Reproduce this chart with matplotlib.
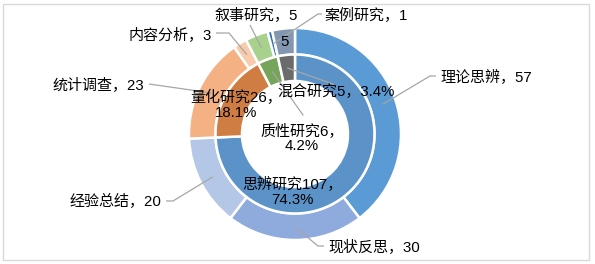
import numpy as np
import matplotlib.pyplot as plt
from matplotlib.patches import Rectangle

plt.rcParams['font.family'] = ['Liberation Sans', 'Noto Sans CJK SC', 'DejaVu Sans']

# outer ring: sub-methods
outer_names = ['理论思辨', '现状反思', '经验总结', '统计调查', '内容分析', '叙事研究', '案例研究', '混合研究']
outer_values = [57, 30, 20, 23, 3, 5, 1, 5]
outer_colors = ['#5B9BD5', '#8FAADC', '#B4C7E7', '#F4B183', '#F8CBAD', '#A9D18E', '#2E75B6', '#8497B0']

# inner ring: main categories
inner_names = ['思辨研究', '量化研究', '质性研究', '混合研究']
inner_values = [107, 26, 6, 5]
inner_pcts = ['74.3%', '18.1%', '4.2%', '3.4%']
inner_colors = ['#5B93C9', '#CF7D42', '#76A45A', '#6B6B6B']

# pixel layout of the chart
cx, cy, R = 295, 134, 106
W, H = 595, 264


def px(x, y):
    return ((x - cx) / R, (cy - y) / R)


# text position (pixels), alignment, leader points after the wedge anchor
outer_layout = [
    ((440, 77), 'left', [(430, 76), (436, 76)]),
    ((328, 247), 'left', [(318, 246), (324, 246)]),
    ((161, 202), 'right', [(173, 201), (166, 201)]),
    ((144, 85), 'right', [(149, 84)]),
    ((212, 35), 'right', [(229, 33), (216, 33)]),
    ((256, 15), 'center', [(250, 25)]),
    ((324, 15), 'left', [(318, 14), (322, 14)]),
    (None, 'center', []),
]
inner_layout = [
    ((292, 192), []),
    ((236, 105), []),
    ((302, 138), [(303, 115)]),
    ((336, 92), [(333, 84)]),
]

fig = plt.figure(figsize=(W / 100, H / 100), dpi=100)
ax = fig.add_axes([0, 0, 1, 1])

wo, _ = ax.pie(outer_values, radius=1.0, colors=outer_colors, startangle=90, counterclock=False,
               wedgeprops=dict(width=0.25, edgecolor='white', linewidth=1.8))
wi, _ = ax.pie(inner_values, radius=0.75, colors=inner_colors, startangle=90, counterclock=False,
               wedgeprops=dict(width=0.25, edgecolor='white', linewidth=1.8))

ax.set_aspect('auto')
ax.set_xlim(-cx / R, (W - cx) / R)
ax.set_ylim(-(H - cy) / R, cy / R)
ax.axis('off')

lc = '#A6A6A6'
fs = 10.8


def anchor(w, r):
    a = np.deg2rad((w.theta1 + w.theta2) / 2)
    return r * np.cos(a), r * np.sin(a)


for i, w in enumerate(wo):
    pos, ha, path = outer_layout[i]
    ax0, ay0 = anchor(w, 0.875)
    if pos is None:
        ax.text(ax0, ay0, str(outer_values[i]), ha='center', va='center', fontsize=fs, zorder=5)
        continue
    pts = [(ax0, ay0)] + [px(*p) for p in path]
    xs, ys = zip(*pts)
    ax.plot(xs, ys, color=lc, lw=0.9, zorder=4, solid_capstyle='butt')
    tx, ty = px(*pos)
    ax.text(tx, ty, f'{outer_names[i]}，{outer_values[i]}', ha=ha, va='center', fontsize=fs, zorder=5)

for i, w in enumerate(wi):
    pos, path = inner_layout[i]
    if path:
        ax0, ay0 = anchor(w, 0.625)
        pts = [(ax0, ay0)] + [px(*p) for p in path]
        xs, ys = zip(*pts)
        ax.plot(xs, ys, color=lc, lw=0.9, zorder=4)
    if inner_names[i] == '混合研究':
        label = f'{inner_names[i]}{inner_values[i]}，{inner_pcts[i]}'
    else:
        label = f'{inner_names[i]}{inner_values[i]}，\n{inner_pcts[i]}'
    tx, ty = px(*pos)
    ax.text(tx, ty, label, ha='center', va='center', fontsize=fs, linespacing=1.1,
            multialignment='center', zorder=5)

fig.patches.append(Rectangle((3 / W, 4 / H), 586 / W, 256 / H, transform=fig.transFigure,
                             fill=False, edgecolor='#D9D9D9', linewidth=1))

fig.savefig('out.png', dpi=100)
